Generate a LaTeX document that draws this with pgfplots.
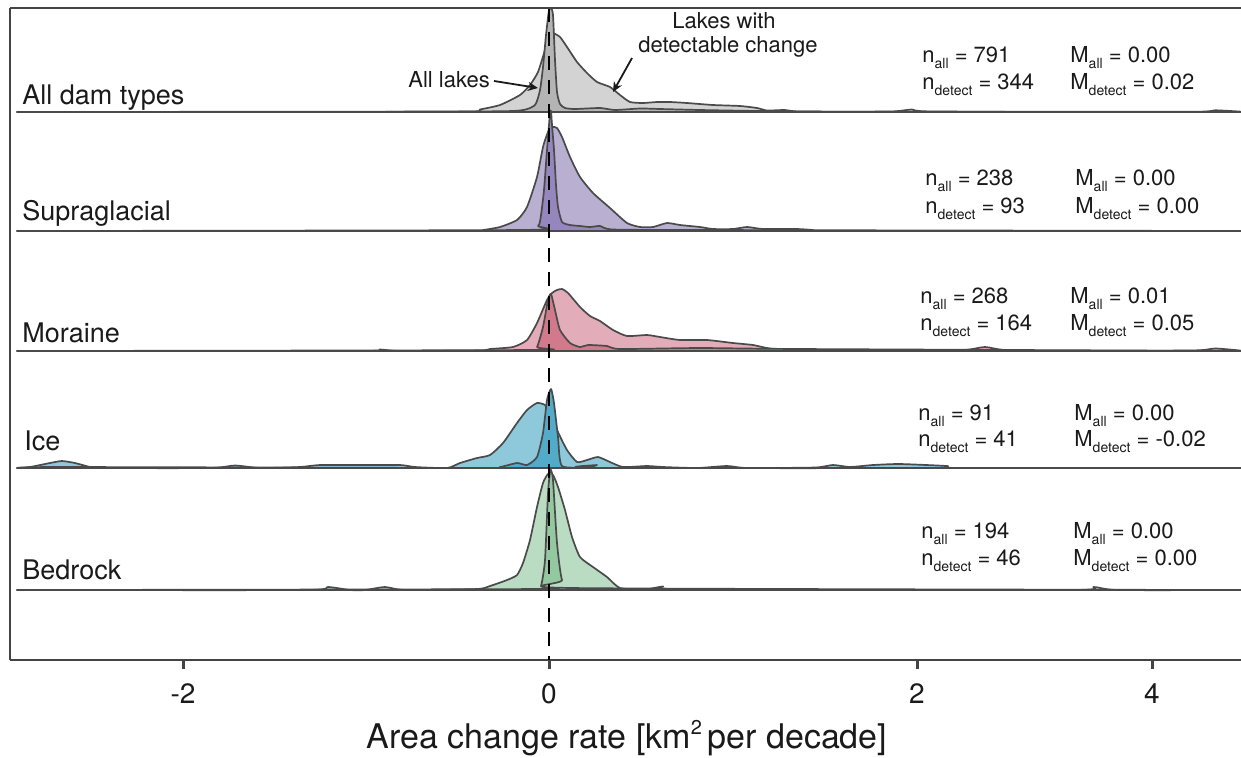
\documentclass[border=0pt]{standalone}
\usepackage{fontspec}
\setmainfont{TeX Gyre Heros}
\usepackage{pgfplots}
\pgfplotsset{compat=1.18}
\usetikzlibrary{arrows.meta}

% fills: light = lakes with detectable change, dark = all lakes
\definecolor{grayA}{HTML}{D3D3D3}\definecolor{grayB}{HTML}{B4B4B4}
\definecolor{purpA}{HTML}{B8AFD1}\definecolor{purpB}{HTML}{9586BE}
\definecolor{pinkA}{HTML}{E2ADB8}\definecolor{pinkB}{HTML}{D27A8B}
\definecolor{blueA}{HTML}{8DC9DA}\definecolor{blueB}{HTML}{52ABC8}
\definecolor{greenA}{HTML}{BADCC2}\definecolor{greenB}{HTML}{93C8A1}
\definecolor{edge}{HTML}{4A4A4A}
\definecolor{axc}{HTML}{444444}
\definecolor{txt}{HTML}{1A1A1A}

\newcommand{\sub}[1]{\raisebox{-3pt}{\fontsize{7}{8}\selectfont #1}}

\begin{document}
\begin{tikzpicture}
\begin{axis}[
    width=615.5pt, height=326pt, scale only axis,
    xmin=10, xmax=1241, ymin=-660, ymax=-8,
    axis x line*=bottom, axis y line*=left,
    axis line style={line width=1pt, color=axc},
    xtick={183,549,917,1152}, xticklabels={-2,0,2,4},
    ytick=\empty,
    tick align=outside,
    major tick length=4.5pt,
    every tick/.style={line width=1.5pt, color=axc},
    xticklabel style={font=\fontsize{14}{16}\selectfont, text=txt, yshift=-4pt},
    clip=false,
    every axis plot/.append style={line width=0.85pt, draw=edge, line join=round, smooth, tension=0.35},
]
% ---- All dam types (baseline 112)
\addplot[fill=grayA] coordinates {(17,-112) (300,-112) (470,-111.5) (480,-109.5) (500,-105) (520,-95) (530,-85) (538,-72) (545,-50) (550,-35) (553,-33) (560,-37) (567,-47) (577,-62) (587,-73) (597,-82) (610,-87) (620,-95) (630,-102) (643,-103) (657,-102) (670,-102) (687,-103) (713,-105) (740,-106) (757,-108) (767,-110.5) (785,-110) (800,-111.5) (890,-111.5) (912,-109.5) (935,-111.5) (1190,-111.8) (1215,-110.3) (1240,-111.6) (1241,-112)} -- cycle;
\addplot[fill=grayB] coordinates {(17,-112) (460,-111.5) (520,-110.5) (535,-105) (540,-90) (543,-67) (546,-35) (549,-10) (551,-8) (553,-15) (555,-60) (557,-92) (560,-104) (565,-108) (575,-109) (600,-108) (615,-110) (640,-108.5) (660,-109) (700,-110) (760,-111) (850,-111.7) (1241,-112)} -- cycle;
% ---- Supraglacial (baseline 231)
\addplot[fill=purpA] coordinates {(17,-231) (470,-231) (483,-230) (500,-227) (517,-220) (527,-207) (537,-177) (543,-147) (548,-132) (552,-127) (557,-128) (562,-137) (570,-157) (580,-177) (593,-193) (610,-208) (627,-223) (640,-227) (653,-227) (667,-223) (680,-225) (700,-227) (713,-229) (733,-229) (747,-227) (763,-229) (797,-229) (813,-230) (830,-231) (1241,-231)} -- cycle;
\addplot[fill=purpB] coordinates {(17,-231) (520,-230) (538,-226) (541,-215) (544,-190) (547,-150) (549,-125) (550,-112) (551,-111) (552,-125) (554,-150) (556,-185) (558,-207) (562,-222) (570,-225) (580,-226) (590,-227) (600,-226) (613,-229.5) (700,-230) (1241,-231)} -- cycle;
% ---- Moraine (baseline 351)
\addplot[fill=pinkA] coordinates {(17,-351) (360,-351) (380,-349.5) (400,-351) (480,-350.5) (490,-349) (513,-347) (527,-340) (537,-323) (547,-300) (552,-293) (557,-290) (562,-289) (568,-293) (580,-307) (590,-316) (600,-321) (613,-330) (627,-336) (647,-335) (660,-337) (680,-340) (707,-340) (733,-343) (753,-345) (770,-348.5) (800,-350) (955,-350.5) (985,-347) (1015,-350.5) (1190,-350.5) (1215,-348.5) (1240,-350.5) (1241,-351)} -- cycle;
\addplot[fill=pinkB] coordinates {(17,-351) (530,-350) (537,-347) (543,-327) (548,-300) (551,-294) (555,-310) (560,-330) (570,-343) (580,-347) (588,-345) (607,-346) (620,-349) (700,-348) (800,-349) (1241,-351)} -- cycle;
% ---- Ice (baseline 468)
\addplot[fill=blueA] coordinates {(17,-468) (30,-467) (50,-463) (62,-461) (75,-463) (90,-467) (100,-468) (210,-468) (235,-465.5) (260,-468) (300,-467) (320,-465) (360,-465) (400,-465) (415,-467) (447,-468) (460,-463) (477,-458) (490,-455) (503,-443) (517,-423) (527,-410) (537,-403) (545,-405) (550,-413) (557,-430) (567,-450) (577,-462) (587,-460) (598,-457) (610,-462) (623,-467) (647,-466) (663,-467) (697,-468) (727,-466) (747,-468) (815,-467.5) (833,-465) (850,-467) (873,-465) (900,-464) (947,-466) (960,-468) (1241,-468)} -- cycle;
\addplot[fill=blueB] coordinates {(17,-468) (60,-467) (480,-468) (500,-467) (517,-463) (527,-465) (537,-457) (543,-433) (547,-400) (551,-389) (554,-403) (558,-437) (562,-466) (590,-467) (597,-465) (605,-468) (1241,-468)} -- cycle;
% ---- Bedrock (baseline 590)
\addplot[fill=greenA] coordinates {(17,-590) (305,-590) (328,-587) (350,-590) (365,-590) (385,-587) (405,-590) (477,-589) (490,-586) (507,-580) (517,-575) (523,-563) (530,-540) (537,-507) (543,-483) (548,-474) (553,-475) (558,-487) (565,-510) (572,-537) (580,-557) (593,-567) (607,-577) (620,-588) (645,-589.5) (663,-586.5) (681,-589.5) (1070,-590) (1094,-587) (1118,-590) (1241,-590)} -- cycle;
\addplot[fill=greenB] coordinates {(17,-590) (535,-589) (541,-586) (545,-560) (548,-493) (550,-472) (551,-470) (553,-480) (557,-543) (562,-580) (573,-588) (1241,-590)} -- cycle;
% ---- zero line
\addplot[draw=black, line width=1pt, dash pattern=on 7pt off 5pt, sharp plot] coordinates {(549,-8) (549,-660)};

\draw[axc, line width=0.8pt] (axis cs:10,-8) -- (axis cs:1241,-8);

% row labels
\begin{scope}[every node/.style={font=\fontsize{13.5}{15}\selectfont, text=txt, anchor=base west, inner sep=0pt}]
\node at (axis cs:22,-104) {All dam types};
\node at (axis cs:22,-220) {Supraglacial};
\node at (axis cs:22,-342) {Moraine};
\node at (axis cs:24,-450) {Ice};
\node at (axis cs:22,-579) {Bedrock};
\end{scope}

% statistics
\begin{scope}[every node/.style={font=\fontsize{11}{13}\selectfont, text=txt, anchor=base west, inner sep=0pt}]
\node at (axis cs:922,-62) {n\sub{all} = 791};
\node at (axis cs:922,-89) {n\sub{detect} = 344};
\node at (axis cs:1070,-62) {M\sub{all} = 0.00};
\node at (axis cs:1070,-89) {M\sub{detect} = 0.02};
\node at (axis cs:925,-185) {n\sub{all} = 238};
\node at (axis cs:925,-213) {n\sub{detect} = 93};
\node at (axis cs:1075,-185) {M\sub{all} = 0.00};
\node at (axis cs:1075,-213) {M\sub{detect} = 0.00};
\node at (axis cs:920,-303) {n\sub{all} = 268};
\node at (axis cs:920,-330) {n\sub{detect} = 164};
\node at (axis cs:1070,-303) {M\sub{all} = 0.01};
\node at (axis cs:1070,-330) {M\sub{detect} = 0.05};
\node at (axis cs:918,-420) {n\sub{all} = 91};
\node at (axis cs:918,-446) {n\sub{detect} = 41};
\node at (axis cs:1074,-420) {M\sub{all} = 0.00};
\node at (axis cs:1074,-446) {M\sub{detect} = -0.02};
\node at (axis cs:921,-538) {n\sub{all} = 194};
\node at (axis cs:921,-565) {n\sub{detect} = 46};
\node at (axis cs:1073,-538) {M\sub{all} = 0.00};
\node at (axis cs:1073,-565) {M\sub{detect} = 0.00};
% annotations
\node at (axis cs:408,-87) {All lakes};
\node[anchor=base] at (axis cs:724,-28) {Lakes with};
\node[anchor=base] at (axis cs:728,-52) {detectable change};
\end{scope}
\draw[-{Stealth[length=5pt,width=4.5pt]}, line width=0.9pt, txt] (axis cs:494,-81) -- (axis cs:538,-88);
\draw[-{Stealth[length=5pt,width=4.5pt]}, line width=0.9pt, txt] (axis cs:632,-58) -- (axis cs:613,-92);

\node[font=\fontsize{17}{19}\selectfont, text=txt] at (axis cs:627,-738) {Area change rate [km\raisebox{0.4em}{\fontsize{10}{10}\selectfont 2}\,per decade]};
\coordinate (bbtl) at (axis cs:0,0);
\coordinate (bbbr) at (axis cs:1241,-757);
\end{axis}
\pgfresetboundingbox
\path (bbtl) rectangle (bbbr);
\end{tikzpicture}
\end{document}
